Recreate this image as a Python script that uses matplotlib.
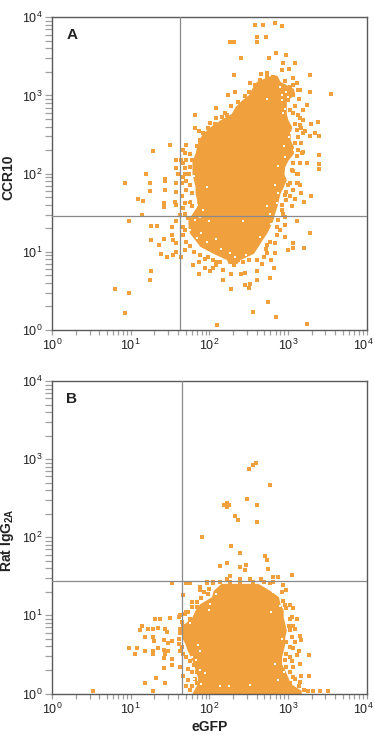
import numpy as np
import matplotlib
matplotlib.use('Agg')
import matplotlib.pyplot as plt
from matplotlib.transforms import ScaledTranslation

# all values below are log10 of the fluorescence intensity
# main cell cloud, one row per y level: y, left edge, right edge
a_body_y = [3.26, 3.18, 3.09, 3.01, 2.94, 2.86, 2.77, 2.69, 2.60, 2.52, 2.43, 2.35, 2.26, 2.17, 2.09,
            2.00, 1.92, 1.83, 1.75, 1.66, 1.58, 1.49, 1.41, 1.32, 1.24, 1.15, 1.07, 0.98, 0.90, 0.85]
a_body_l = [2.79, 2.60, 2.54, 2.50, 2.41, 2.33, 2.28, 2.14, 2.01, 1.92, 1.86, 1.84, 1.82, 1.78, 1.78,
            1.78, 1.80, 1.82, 1.82, 1.84, 1.84, 1.78, 1.73, 1.73, 1.75, 1.82, 1.88, 2.05, 2.22, 2.24]
a_body_r = [2.86, 2.90, 3.07, 3.09, 2.98, 2.98, 2.98, 3.00, 3.05, 3.03, 3.03, 3.07, 3.07, 3.00, 2.96,
            2.95, 2.98, 2.94, 2.90, 2.88, 2.86, 2.83, 2.81, 2.77, 2.73, 2.67, 2.62, 2.56, 2.39, 2.35]

a_x = [2.58, 2.68, 2.84, 2.92, 2.61, 2.61, 2.72, 2.27, 2.32, 2.85, 2.98, 2.40, 2.76, 2.94, 3.09, 2.92, 3.01,
       2.32, 3.28, 2.66, 2.74, 3.06, 2.52, 3.12, 3.07, 2.33, 3.15, 3.28, 3.55, 2.24, 3.14, 3.24, 3.19,
       2.09, 2.28, 2.20, 1.82, 2.09, 2.01, 1.82, 1.87, 3.15, 3.19, 3.29, 3.38, 3.22, 3.34, 3.28, 3.39,
       1.50, 1.28, 1.71, 1.67, 1.58, 1.67, 3.19, 3.39, 3.24, 3.39, 3.39, 3.07, 3.13, 1.20, 1.69, 1.44, 1.60, 1.58,
       0.93, 1.25, 1.44, 1.58, 1.25, 1.58, 1.44, 1.09, 1.16, 1.42, 1.42, 1.56, 1.58, 1.15, 1.63,
       0.98, 1.26, 1.33, 1.52, 1.58, 1.67, 1.26, 1.42, 1.36, 1.52, 1.54, 1.39, 1.46, 1.54, 1.58, 1.64, 1.58,
       1.26, 1.25, 0.80, 0.98, 0.93, 1.79, 1.87, 1.87, 1.94, 2.01, 2.05, 2.17, 2.17, 2.09, 2.28, 2.28,
       2.40, 2.45, 2.61, 2.61, 2.77, 2.82, 2.79, 2.67, 2.45, 2.50, 2.52, 2.75, 2.56, 2.85, 2.10, 3.24,
       2.83, 2.72, 2.83, 2.96, 3.07, 3.06, 3.00, 3.20, 3.28, 2.96, 3.11, 3.05, 3.09, 3.17, 3.30, 3.20,
       3.13, 3.03, 2.98, 2.92, 2.96, 2.86]
a_y = [3.90, 3.90, 3.93, 3.89, 3.75, 3.69, 3.75, 3.68, 3.68, 3.54, 3.52, 3.48, 3.48, 3.42, 3.41, 3.32, 3.34,
       3.26, 3.26, 3.28, 3.29, 3.22, 3.16, 3.16, 3.13, 3.05, 3.07, 3.04, 3.02, 3.00, 2.95, 2.88, 2.82,
       2.84, 2.86, 2.77, 2.75, 2.71, 2.65, 2.59, 2.54, 2.71, 2.69, 2.64, 2.66, 2.54, 2.52, 2.48, 2.48,
       2.37, 2.29, 2.37, 2.30, 2.18, 2.13, 2.28, 2.24, 2.14, 2.12, 2.06, 2.03, 1.99, 1.99, 2.00, 1.93, 2.00, 2.07,
       1.88, 1.88, 1.90, 1.88, 1.78, 1.77, 1.79, 1.68, 1.65, 1.62, 1.57, 1.64, 1.60, 1.47, 1.47,
       1.39, 1.33, 1.33, 1.32, 1.39, 1.32, 1.15, 1.16, 1.09, 1.22, 1.15, 0.97, 0.93, 0.96, 1.00, 0.94, 1.11,
       0.75, 0.64, 0.52, 0.47, 0.22, 0.83, 0.87, 0.72, 0.79, 0.75, 0.79, 0.77, 0.64, 0.87, 0.72, 0.53,
       0.71, 0.73, 0.75, 0.64, 0.67, 0.79, 0.89, 0.85, 0.57, 0.54, 0.59, 0.36, 0.23, 0.16, 0.06, 0.08,
       0.99, 1.04, 1.11, 1.19, 1.11, 1.05, 1.02, 1.05, 1.24, 1.34, 1.39, 1.58, 1.68, 1.75, 1.72, 1.64,
       1.88, 1.88, 1.77, 1.54, 1.45, 1.32]

# events crowding the edge of the cloud
a_edge_x = [1.69, 1.75, 1.71, 1.78, 1.64, 1.75, 1.69, 1.74, 1.67, 1.71, 1.65, 1.75, 1.71, 1.78, 1.65, 1.69,
            1.78, 1.75, 1.67, 1.69, 1.73, 1.69, 1.67, 1.71, 1.75, 1.69, 1.80, 1.88, 1.94, 1.99, 2.09, 2.05,
            2.14, 2.31, 2.37, 2.43, 2.50, 2.61, 2.69, 2.73, 2.77, 2.73, 2.86, 2.90, 2.88, 2.94, 2.92, 2.98,
            3.03, 2.96, 3.07, 3.00, 3.11, 3.15, 3.11, 3.05, 3.07, 3.15, 3.11, 3.18, 3.13, 3.09, 3.17, 3.13,
            3.19, 3.11, 3.17, 3.09, 3.15, 3.13, 3.07, 3.03, 3.09, 3.00, 3.07, 3.13, 2.94, 3.03, 2.96, 2.64,
            2.73, 2.81, 2.50, 2.58, 2.45, 2.37, 2.22, 2.16, 2.07, 1.99, 1.92, 1.88, 1.85]
a_edge_y = [2.26, 2.25, 2.18, 2.17, 2.18, 2.09, 2.07, 2.00, 1.96, 1.90, 1.88, 1.85, 1.79, 1.75, 1.71, 1.62,
            1.58, 1.64, 1.56, 1.49, 1.43, 1.28, 1.22, 1.13, 1.07, 1.02, 1.00, 0.96, 0.91, 0.94, 0.83, 0.89,
            0.87, 0.83, 0.89, 0.87, 0.89, 0.89, 0.93, 0.98, 1.13, 1.09, 1.22, 1.28, 1.41, 1.49, 1.60, 1.66,
            1.71, 1.73, 1.79, 1.85, 1.88, 1.85, 2.00, 2.05, 2.13, 2.13, 2.22, 2.26, 2.30, 2.39, 2.39, 2.47,
            2.52, 2.56, 2.58, 2.64, 2.62, 2.75, 2.77, 2.81, 2.86, 2.94, 3.01, 3.07, 3.03, 3.11, 3.18, 3.20,
            3.24, 3.24, 3.05, 3.13, 2.99, 2.92, 2.75, 2.73, 2.64, 2.58, 2.52, 2.43, 2.35]

# empty channels inside the cloud
a_gap_x = [1.84, 1.73, 1.71, 1.97, 1.82, 2.00, 1.88, 1.75, 1.97, 2.09, 1.86, 2.26, 2.43, 2.73, 2.88, 2.77,
           2.64, 2.47, 2.86, 2.79, 2.88, 3.02, 3.05, 2.90, 2.98, 2.92, 3.05, 2.94, 2.73,
           1.80, 1.92, 1.85, 2.96, 3.00, 2.92, 2.96, 2.84, 2.90, 2.95, 3.08, 3.04, 1.90, 2.15, 2.33]
a_gap_y = [1.60, 1.66, 1.73, 1.83, 1.41, 1.39, 1.45, 1.28, 1.13, 1.17, 1.04, 0.98, 1.40, 1.58, 1.75, 1.49,
           1.19, 0.96, 1.62, 1.36, 2.10, 2.47, 2.64, 3.11, 3.05, 2.94, 2.90, 2.77, 2.95,
           1.97, 1.54, 1.18, 2.83, 2.98, 3.00, 2.21, 1.85, 1.66, 2.36, 2.30, 2.52, 1.24, 1.03, 0.94]

b_body_y = [1.41, 1.32, 1.24, 1.15, 1.07, 0.98, 0.90, 0.81, 0.72, 0.64, 0.55, 0.47, 0.38, 0.30, 0.21, 0.13, 0.04, 0.00]
b_body_l = [2.15, 2.05, 2.03, 1.88, 1.82, 1.78, 1.69, 1.65, 1.65, 1.69, 1.72, 1.76, 1.80, 1.82, 1.85, 1.85, 1.80, 1.78]
b_body_r = [2.62, 2.77, 2.88, 2.90, 2.94, 2.94, 2.96, 2.98, 2.96, 2.96, 2.94, 2.92, 2.92, 2.96, 3.00, 3.03, 3.17, 3.17]

b_x = [2.59, 2.56, 2.50, 2.77, 2.48, 2.61, 2.19, 2.22, 2.25, 2.22, 2.22, 2.33, 2.36, 2.61, 1.91, 2.28,
       2.39, 2.71, 2.73, 2.14, 2.23, 2.47, 2.39, 2.45, 2.75, 3.05, 2.81, 2.87, 2.26, 2.22, 2.39, 2.52, 2.66,
       1.53, 1.71, 1.75, 1.97, 2.05, 1.88, 2.94, 2.77, 2.98, 1.67, 1.90, 1.78, 1.84, 1.93, 2.00,
       3.03, 3.07, 2.98, 3.12, 3.03, 3.01, 3.09, 3.15, 3.17, 3.09, 3.03, 3.14, 3.27, 3.11, 3.03, 3.15, 3.07,
       3.17, 3.27, 3.15, 3.09, 3.25, 3.32, 3.41, 3.51, 1.63, 1.69, 1.73, 1.65,
       1.31, 1.37, 1.50, 1.61, 1.15, 1.12, 1.22, 1.35, 1.29, 1.44, 1.46, 1.18, 1.29, 1.30, 1.42, 1.52, 1.48,
       1.61, 1.61, 0.98, 1.08, 1.06, 1.18, 1.28, 1.28, 1.35, 1.42, 1.48, 1.44, 1.42, 1.52, 1.63, 1.42, 1.52,
       1.63, 1.32, 1.18, 1.44, 1.28, 0.52, 1.67, 1.73, 1.75]
b_y = [2.95, 2.93, 2.87, 2.67, 2.49, 2.41, 2.41, 2.41, 2.41, 2.44, 2.39, 2.27, 2.22, 2.19, 2.00, 1.89,
       1.80, 1.76, 1.71, 1.63, 1.67, 1.64, 1.62, 1.58, 1.59, 1.52, 1.49, 1.49, 1.51, 1.47, 1.47, 1.47, 1.47,
       1.42, 1.41, 1.41, 1.42, 1.41, 1.36, 1.39, 1.41, 1.32, 1.26, 1.22, 1.17, 1.17, 1.30, 1.34,
       1.13, 1.09, 1.09, 0.96, 0.96, 0.87, 0.83, 0.73, 0.68, 0.66, 0.60, 0.55, 0.49, 0.49, 0.47, 0.38, 0.34,
       0.23, 0.23, 0.15, 0.19, 0.03, 0.03, 0.03, 0.03, 1.00, 1.02, 1.04, 0.92,
       0.95, 0.96, 0.97, 0.98, 0.87, 0.81, 0.83, 0.84, 0.83, 0.83, 0.79, 0.72, 0.72, 0.67, 0.68, 0.67, 0.65,
       0.70, 0.64, 0.58, 0.58, 0.51, 0.55, 0.55, 0.50, 0.58, 0.56, 0.55, 0.51, 0.45, 0.44, 0.55, 0.33, 0.36,
       0.34, 0.20, 0.14, 0.13, 0.03, 0.03, 0.23, 0.17, 0.04]

b_edge_x = [1.97, 2.05, 2.14, 2.26, 2.39, 2.56, 2.69, 2.81, 1.88, 1.99, 1.78, 1.84, 1.71, 1.75, 1.67, 1.63, 1.63,
            1.65, 1.67, 1.71, 1.75, 1.80, 1.84, 1.73, 1.78, 1.84, 1.82, 1.88, 1.92, 1.84, 1.78, 1.71,
            2.92, 2.94, 2.96, 3.05, 3.07, 3.03, 3.05, 2.98, 3.07, 2.98, 2.96, 3.05, 2.98, 3.03, 3.07, 3.14, 3.03, 3.20]
b_edge_y = [1.43, 1.43, 1.43, 1.43, 1.43, 1.43, 1.43, 1.43, 1.32, 1.28, 1.11, 1.11, 1.04, 0.96, 0.87, 0.83, 0.77,
            0.60, 0.51, 0.47, 0.41, 0.36, 0.36, 0.32, 0.28, 0.28, 0.19, 0.21, 0.19, 0.13, 0.09, 0.09,
            1.30, 1.19, 1.13, 0.98, 0.87, 0.81, 0.72, 0.66, 0.58, 0.51, 0.43, 0.41, 0.34, 0.28, 0.21, 0.09, 0.13, 0.04]

b_gap_x = [1.88, 1.78, 1.88, 2.14, 2.25, 2.52, 2.88, 2.84, 2.78, 2.01, 2.09, 2.88, 2.81,
           1.83, 1.95, 1.80, 1.90, 2.92, 2.95, 2.72, 2.90, 2.00, 1.76, 1.86]
b_gap_y = [0.55, 0.47, 0.30, 0.09, 0.09, 0.11, 0.17, 0.38, 1.04, 1.15, 1.28, 1.28, 1.30,
           0.43, 0.26, 0.19, 0.12, 0.70, 0.28, 1.36, 1.12, 1.07, 0.90, 0.62]

gate_a = (1.63, 1.46)
gate_b = (1.65, 1.44)

ORANGE = '#f0a03c'
W, H = 375.0, 736.0

plt.rcParams['font.family'] = ['Liberation Sans', 'DejaVu Sans']
plt.rcParams['mathtext.default'] = 'regular'


def panel(rect, body, pts, edge, gaps, gate, letter, ylabel):
    x0, y0, x1, y1 = rect
    ax = fig.add_axes([x0 / W, 1 - y1 / H, (x1 - x0) / W, (y1 - y0) / H])
    ax.set_xscale('log')
    ax.set_yscale('log')
    ax.set_xlim(1, 1e4)
    ax.set_ylim(1, 1e4)

    by, bl, br = [10 ** np.array(v) for v in body]
    ax.fill_betweenx(by, bl, br, color=ORANGE, lw=0, zorder=1)
    for xs, ys in (pts, edge):
        ax.scatter(10 ** np.array(xs), 10 ** np.array(ys), s=5, marker='s', color=ORANGE, lw=0, zorder=2)
    ax.scatter(10 ** np.array(gaps[0]), 10 ** np.array(gaps[1]), s=3, marker='s', color='white', lw=0, zorder=3)

    ax.axvline(10 ** gate[0], color='#8a8a8a', lw=0.9, zorder=4)
    ax.axhline(10 ** gate[1], color='#8a8a8a', lw=0.9, zorder=4)

    for s in ax.spines.values():
        s.set_color('#5a5a5a')
        s.set_linewidth(1.0)
    ax.tick_params(which='both', direction='out', color='#a0a0a0', width=0.9, labelsize=9, pad=2,
                   labelcolor='#222222')
    ax.tick_params(axis='x', which='both', length=3.8)
    ax.tick_params(axis='y', which='both', length=4.8)
    ticks = [1, 10, 100, 1000, 10000]
    labels = ['10$^{%d}$' % i for i in range(5)]
    ax.set_xticks(ticks, labels)
    ax.set_yticks(ticks, labels)
    # last x label has to stay inside the figure
    last = ax.get_xticklabels()[-1]
    last.set_transform(last.get_transform() + ScaledTranslation(-3 / 100, 0, fig.dpi_scale_trans))
    ax.text(0.045, 0.965, letter, transform=ax.transAxes, fontsize=11, fontweight='bold', color='#222222',
            ha='left', va='top')
    ax.set_ylabel(ylabel, fontsize=10, fontweight='bold', color='#222222', va='center')
    ax.yaxis.set_label_coords(-44.0 / (x1 - x0), 0.49)
    return ax


fig = plt.figure(figsize=(3.75, 7.36), dpi=100)
panel((52, 17.3, 366.5, 330), (a_body_y, a_body_l, a_body_r), (a_x, a_y), (a_edge_x, a_edge_y), (a_gap_x, a_gap_y),
      gate_a, 'A', 'CCR10')
ax_b = panel((52, 381, 366.5, 693.5), (b_body_y, b_body_l, b_body_r), (b_x, b_y), (b_edge_x, b_edge_y),
             (b_gap_x, b_gap_y), gate_b, 'B', 'Rat IgG$_{2A}$')
ax_b.set_xlabel('eGFP', fontsize=10, fontweight='bold', color='#222222', va='center')
ax_b.xaxis.set_label_coords(0.5, -33.5 / 312.5)

fig.savefig('out.png', dpi=100)
